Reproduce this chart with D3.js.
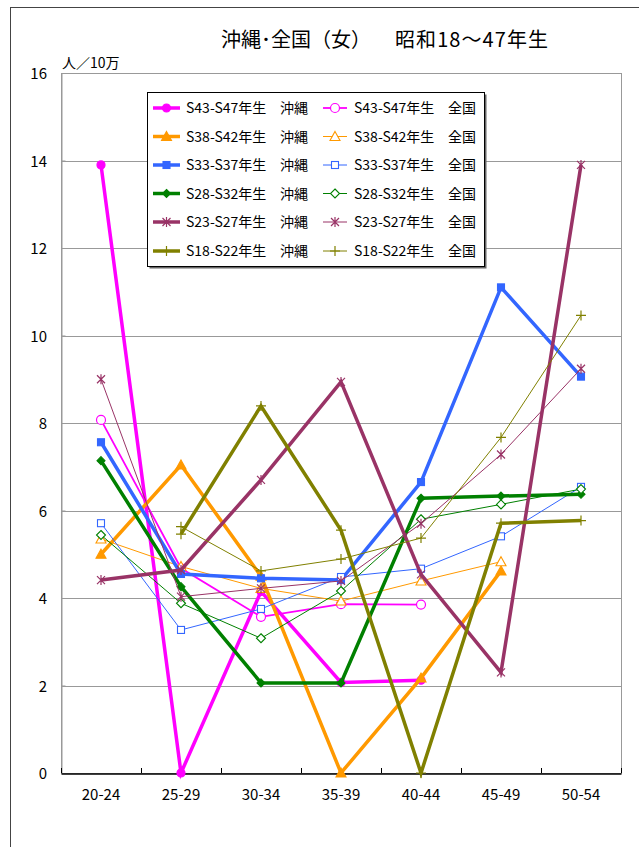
<!DOCTYPE html>
<html><head><meta charset="utf-8">
<script src="https://cdn.jsdelivr.net/npm/d3@7"></script>
<style>
body{margin:0;background:#fff}
svg{display:block}
text{font-family:"Noto Sans CJK JP","Noto Sans",sans-serif;fill:#000}
</style>
</head><body>
<svg id="c" width="639" height="847"></svg>
<script>
// ---- data ----
const ageGroups = ["20-24","25-29","30-34","35-39","40-44","45-49","50-54"];
const cohorts = ["S43-S47年生","S38-S42年生","S33-S37年生","S28-S32年生","S23-S27年生","S18-S22年生"];
const regions = ["沖縄","全国"];
const yTicks = [0,2,4,6,8,10,12,14,16];

const okinawaS43S47 = [13.9, 0, 4.15, 2.07, 2.12, null, null];
const zenkokuS43S47 = [8.07, 4.68, 3.57, 3.86, 3.85, null, null];
const okinawaS38S42 = [5.0, 7.04, 4.5, 0, 2.17, 4.62, null];
const zenkokuS38S42 = [5.35, 4.72, 4.22, 3.93, 4.39, 4.83, null];
const okinawaS33S37 = [7.56, 4.55, 4.45, 4.41, 6.65, 11.1, 9.06];
const zenkokuS33S37 = [5.71, 3.27, 3.75, 4.48, 4.67, 5.41, 6.54];
const okinawaS28S32 = [7.14, 4.26, 2.06, 2.06, 6.28, 6.33, 6.37];
const zenkokuS28S32 = [5.44, 3.88, 3.08, 4.16, 5.8, 6.14, 6.49];
const okinawaS23S27 = [4.41, 4.64, 6.7, 8.94, 4.54, 2.3, 13.9];
const zenkokuS23S27 = [9.0, 4.03, 4.22, 4.39, 5.7, 7.28, 9.24];
const okinawaS18S22 = [null, 5.46, 8.39, 5.55, 0, 5.71, 5.77];
const zenkokuS18S22 = [null, 5.63, 4.62, 4.89, 5.37, 7.67, 10.46];

const okinawaSeries = [okinawaS43S47, okinawaS38S42, okinawaS33S37, okinawaS28S32, okinawaS23S27, okinawaS18S22];
const zenkokuSeries = [zenkokuS43S47, zenkokuS38S42, zenkokuS33S37, zenkokuS28S32, zenkokuS23S27, zenkokuS18S22];

// ---- styles ----
const colors = ["#FF00FF","#FF9900","#3366FF","#008000","#993366","#808000"];
const shapes = ["circle","triangle","square","diamond","asterisk","plus"];

const svg = d3.select("#c");
const L = 61, R = 621, T = 73, B = 773;
const x = d3.scaleBand().domain(ageGroups).range([L, R]);
const xc = d => x(d) + x.bandwidth()/2;
const y = d3.scaleLinear().domain([0,16]).range([B, T]);

// outer frame
svg.append("rect").attr("x",10.5).attr("y",7.5).attr("width",700).attr("height",900)
  .attr("fill","#fff").attr("stroke","#444").attr("stroke-width",1);

// title
svg.append("text").attr("x",221).attr("y",47).attr("font-size",20).text("沖縄･全国（女）");
svg.append("text").attr("x",395).attr("y",47).attr("font-size",20)
  .attr("textLength",153).attr("lengthAdjust","spacing").text("昭和18～47年生");
svg.append("text").attr("x",62).attr("y",68).attr("font-size",14).text("人／10万");

// plot area
svg.append("rect").attr("x",L+0.5).attr("y",T+0.5).attr("width",R-L).attr("height",B-T)
  .attr("fill","none").attr("stroke","#999");
svg.append("g").selectAll("line").data(yTicks.filter(v=>v>0&&v<16)).join("line")
  .attr("x1",L).attr("x2",R).attr("y1",d=>Math.round(y(d))+0.5).attr("y2",d=>Math.round(y(d))+0.5)
  .attr("stroke","#999");

// y axis
const ya = svg.append("g").attr("transform",`translate(${L+0.5},0)`)
  .call(d3.axisRight(y).tickValues(yTicks).tickSize(4).tickFormat(""));
ya.select(".domain").attr("stroke","#999");
ya.selectAll(".tick line").attr("stroke","#999");
svg.append("g").selectAll("text").data(yTicks).join("text")
  .attr("x",47).attr("y",d=>y(d)+6).attr("text-anchor","end").attr("font-size",15).text(d=>d);

// x axis
const xa = svg.append("g").attr("transform",`translate(0,${B+0.5})`)
  .call(d3.axisBottom(x).tickSize(0).tickPadding(16));
xa.select(".domain").attr("stroke","#000").attr("stroke-width",1.5);
xa.selectAll(".tick text").attr("font-size",15).attr("font-family",'"Noto Sans CJK JP",sans-serif');
const bounds = ageGroups.map(d=>x(d)).concat([R]);
svg.append("g").selectAll("line").data(bounds).join("line")
  .attr("x1",d=>d+0.5).attr("x2",d=>d+0.5).attr("y1",B).attr("y2",B-5).attr("stroke","#000");

// marker drawing
function marker(g, shape, color, filled, cx, cy) {
  const f = filled ? color : "#fff";
  if (shape === "circle") {
    g.append("circle").attr("cx",cx).attr("cy",cy).attr("r",filled?4:4.5)
      .attr("fill",f).attr("stroke",color).attr("stroke-width",1.2);
  } else if (shape === "triangle") {
    const s = 5;
    g.append("path").attr("d",`M${cx},${cy-s}L${cx+s},${cy+s*0.8}L${cx-s},${cy+s*0.8}Z`)
      .attr("fill",f).attr("stroke",color).attr("stroke-width",1.1);
  } else if (shape === "square") {
    const s = 3.5;
    g.append("rect").attr("x",cx-s).attr("y",cy-s).attr("width",2*s).attr("height",2*s)
      .attr("fill",f).attr("stroke",color).attr("stroke-width",1.1);
  } else if (shape === "diamond") {
    const s = filled ? 4 : 4.5;
    g.append("path").attr("d",`M${cx},${cy-s}L${cx+s},${cy}L${cx},${cy+s}L${cx-s},${cy}Z`)
      .attr("fill",f).attr("stroke",color).attr("stroke-width",1.1);
  } else if (shape === "asterisk") {
    const s = 4;
    g.append("path").attr("d",`M${cx-s},${cy-s}L${cx+s},${cy+s}M${cx-s},${cy+s}L${cx+s},${cy-s}M${cx},${cy-s-1}L${cx},${cy+s+1}`)
      .attr("fill","none").attr("stroke",color).attr("stroke-width",1.2);
  } else if (shape === "plus") {
    const s = 5;
    g.append("path").attr("d",`M${cx-s},${cy}L${cx+s},${cy}M${cx},${cy-s}L${cx},${cy+s}`)
      .attr("fill","none").attr("stroke",color).attr("stroke-width",1.2);
  }
}

// series lines
const line = d3.line().defined(d=>d.v!==null).x(d=>xc(d.a)).y(d=>y(d.v));
const plot = svg.append("g");
cohorts.forEach((c,i)=>{
  [okinawaSeries[i], zenkokuSeries[i]].forEach((vals,k)=>{
    const pts = vals.map((v,j)=>({a:ageGroups[j], v}));
    const g = plot.append("g");
    g.append("path").datum(pts).attr("d",line).attr("fill","none")
      .attr("stroke",colors[i]).attr("stroke-width", k===0 ? 3.5 : (i===0 ? 1.8 : 1))
      .attr("stroke-linejoin","miter");
    pts.filter(p=>p.v!==null).forEach(p=>marker(g, shapes[i], colors[i], k===0, xc(p.a), y(p.v)));
  });
});

// legend
const lg = svg.append("g");
const lx = 147, ly = 92, lw = 337, lh = 174;
lg.append("rect").attr("x",lx+2.5).attr("y",ly+2.5).attr("width",lw).attr("height",lh).attr("fill","#666");
lg.append("rect").attr("x",lx+0.5).attr("y",ly+0.5).attr("width",lw).attr("height",lh).attr("fill","#fff").attr("stroke","#000");
const rowY = [108,136.5,165,193.5,222,251];
const colX = [[153,180,186,280],[323,347,354,448]];
cohorts.forEach((c,i)=>{
  regions.forEach((r,k)=>{
    const cx = colX[k], yy = rowY[i];
    lg.append("line").attr("x1",cx[0]).attr("x2",cx[1]).attr("y1",yy).attr("y2",yy)
      .attr("stroke",colors[i]).attr("stroke-width", k===0 ? 3.5 : (i===0 ? 1.8 : 1));
    marker(lg, shapes[i], colors[i], k===0, (cx[0]+cx[1])/2, yy);
    lg.append("text").attr("x",cx[2]).attr("y",yy+5).attr("font-size",14).text(c);
    lg.append("text").attr("x",cx[3]).attr("y",yy+5).attr("font-size",14).text(r);
  });
});
</script>
</body></html>
